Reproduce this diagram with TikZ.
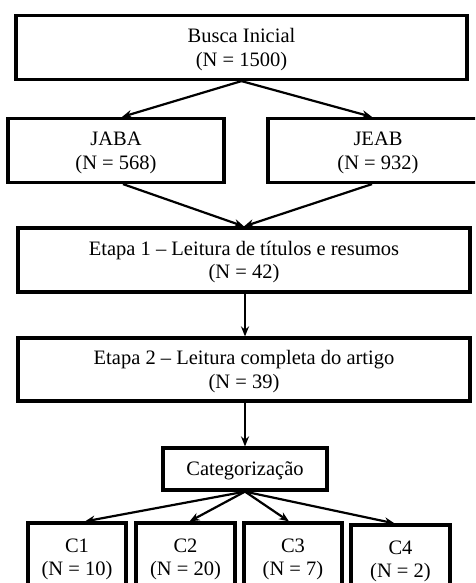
\documentclass[tikz,border=0pt]{standalone}
\usepackage{fontspec}
\setmainfont{Liberation Serif}
\usetikzlibrary{arrows.meta}
\begin{document}
\begin{tikzpicture}[
        x=1pt, y=-1pt,
        every node/.style={align=center, font=\fontsize{20.5}{23.5}\selectfont, inner sep=0pt, text depth=-5pt},
        caixa/.style={draw, line width=3.2pt, minimum height=64pt},
        seta/.style={-{Stealth[length=10pt,width=8pt]}, line width=2.2pt}
    ]
    \useasboundingbox (0,0) rectangle (475,583);
    \clip (0,0) rectangle (475,583);
    \node[caixa, minimum width=451pt] (busca) at (241.5,47.5) {Busca Inicial\\(N = 1500)};
    \node[caixa, minimum width=216pt] (jaba) at (116,150.5) {JABA\\(N = 568)};
    \node[caixa, minimum width=220pt] (jeab) at (378,150.5) {JEAB\\(N = 932)};
    \node[caixa, minimum width=452pt] (etapa1) at (244,260) {Etapa 1 -- Leitura de títulos e resumos\\(N = 42)};
    \node[caixa, minimum width=452pt, minimum height=63pt] (etapa2) at (244,369.5) {Etapa 2 -- Leitura completa do artigo\\(N = 39)};
    \node[caixa, minimum width=164pt, minimum height=42pt] (categ) at (245,469) {Categorização};
    \node[caixa, minimum width=98pt, minimum height=68pt] (c1) at (77,557) {C1\\(N = 10)};
    \node[caixa, minimum width=99pt, minimum height=68pt] (c2) at (185.5,557) {C2\\(N = 20)};
    \node[caixa, minimum width=98pt, minimum height=68pt] (c3) at (293,557) {C3\\(N = 7)};
    \node[caixa, minimum width=99pt, minimum height=68pt] (c4) at (400.5,559) {C4\\(N = 2)};

    \draw [seta] (busca.south) -- ([xshift=6pt]jaba.north);
    \draw [seta] (busca.south) -- ([xshift=-6pt]jeab.north);
    \draw [seta] ([xshift=7pt]jaba.south) -- (etapa1.north);
    \draw [seta] ([xshift=-6pt]jeab.south) -- (etapa1.north);
    \draw [seta] ([xshift=1pt]etapa1.south) -- ([xshift=1pt]etapa2.north);
    \draw [seta] ([xshift=1pt]etapa2.south) -- (categ.north);
    \draw [seta] (categ.south) -- ([xshift=8pt]c1.north);
    \draw [seta] (categ.south) -- ([xshift=4pt]c2.north);
    \draw [seta] (categ.south) -- ([xshift=-4pt]c3.north);
    \draw [seta] (categ.south) -- ([xshift=-6pt]c4.north);
\end{tikzpicture}
\end{document}
